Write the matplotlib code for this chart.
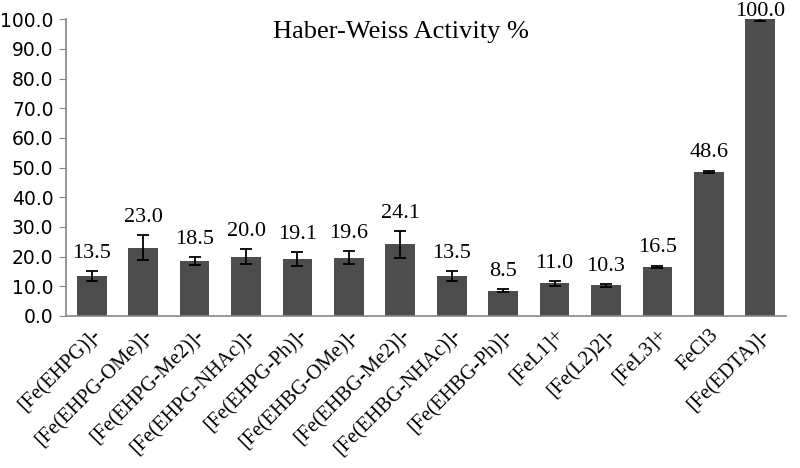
import matplotlib
matplotlib.use("Agg")
import matplotlib.pyplot as plt
import numpy as np

labels = ['[Fe(EHPG)]-', '[Fe(EHPG-OMe)]-', '[Fe(EHPG-Me2)]-', '[Fe(EHPG-NHAc)]-',
          '[Fe(EHPG-Ph)]-', '[Fe(EHBG-OMe)]-', '[Fe(EHBG-Me2)]-', '[Fe(EHBG-NHAc)]-',
          '[Fe(EHBG-Ph)]-', '[FeL1]+', '[Fe(L2)2]-', '[FeL3]+', 'FeCl3', '[Fe(EDTA)]-']
values = [13.5, 23.0, 18.5, 20.0, 19.1, 19.6, 24.1, 13.5, 8.5, 11.0, 10.3, 16.5, 48.6, 100.0]
errors = [1.6, 4.2, 1.4, 2.6, 2.4, 2.2, 4.5, 1.6, 0.6, 0.8, 0.5, 0.3, 0.3, 0.5]

fig = plt.figure(figsize=(8, 4.68), dpi=100)
ax = fig.add_axes([0.0825, 0.325, 0.9, 0.634])

x = np.arange(len(values))
ax.bar(x, values, width=0.58, color='#4d4d4d', zorder=2)
ax.errorbar(x, values, yerr=errors, fmt='none', ecolor='black', elinewidth=1.3,
            capsize=4, capthick=1.3, zorder=3)

for xi, v, e in zip(x, values, errors):
    if v >= 100:
        y = v - 0.5
    else:
        y = v + max(e, 0.5) + 2.8
    ax.text(xi, y, f'{v:.1f}', ha='center', va='bottom',
            family='Liberation Serif', fontsize=16)

ax.set_xlim(-0.5, len(values) - 0.5)
ax.set_ylim(0, 100)
ax.set_yticks(np.arange(0, 101, 10))
ax.set_yticklabels([f'{t:.1f}' for t in np.arange(0, 101, 10)], fontsize=13.5)
ax.set_xticks(x)
ax.set_xticklabels(labels, rotation=45, ha='right', rotation_mode='anchor',
                   family='Liberation Serif', fontsize=14.8)
ax.tick_params(axis='x', length=0, pad=7)
ax.tick_params(axis='y', length=5, color='#868686', pad=4)

for s in ['top', 'right']:
    ax.spines[s].set_visible(False)
for s in ['left', 'bottom']:
    ax.spines[s].set_color('#868686')
    ax.spines[s].set_linewidth(1.2)

ax.text(0.465, 0.995, 'Haber-Weiss Activity %', transform=ax.transAxes, ha='center',
        va='top', family='Liberation Serif', fontsize=19)

fig.savefig('out.png', dpi=100)
